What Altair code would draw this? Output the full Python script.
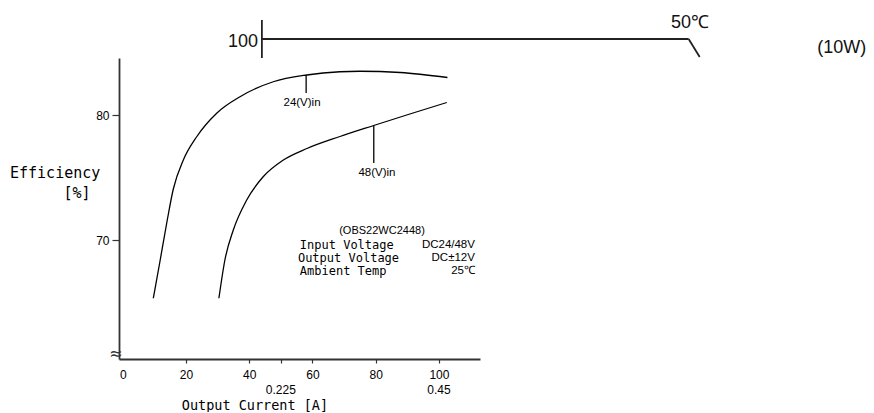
import altair as alt
import pandas as pd

# Efficiency curves (x = load %, y = efficiency %)
load_24 = [9.66, 11.78, 13.9, 15.98, 19.15, 23.38, 29.7, 37.08, 47.6, 58.2, 68.7, 75, 87.8, 102.7]
eff_24 = [65.34, 68.32, 71.36, 74.08, 76.4, 78.26, 80.14, 81.46, 82.66, 83.2, 83.46, 83.5, 83.4, 83.0]
load_48 = [30.4, 32.3, 34.96, 39.2, 44.4, 50.8, 58.26, 68.7, 79.37, 90.8, 102.5]
eff_48 = [65.34, 68.4, 70.8, 73.2, 75.06, 76.4, 77.32, 78.28, 79.16, 80.08, 81.0]

x_ticks = [0, 20, 40, 50, 60, 80, 100]
y_ticks = [70, 80]
current_labels = ["0.225", "0.45"]
current_at = [50, 100]

# line segments in data units: leaders + derating fragment at top
seg_x = [58, 79.4, 44.0, 44.0, 179.0]
seg_y = [83.2, 79.16, 87.6, 86.08, 86.08]
seg_x2 = [58, 79.4, 44.0, 179.0, 182.5]
seg_y2 = [81.76, 76.16, 84.56, 86.08, 84.64]

big_text = ["100", "50℃", "(10W)"]
big_x = [42.8, 179.4, 227.4]
big_y = [85.84, 87.36, 85.36]
big_align = ["right", "center", "center"]

mono_text = ["Efficiency", "[%]"]
mono_x = [-21.4, -14.5]
mono_y = [75.36, 73.76]

xtitle = ["Output Current [A]"]
xtitle_x = [41.8]
xtitle_y = [56.76]

spec_left = ["Input Voltage", "Output Voltage", "Ambient Temp"]
spec_right = ["DC24/48V", "DC±12V", "25℃"]
spec_y = [69.64, 68.6, 67.56]
spec_lx = [56, 55.4, 56]
spec_rx = [111.4, 111.4, 111.4]

small_text = ["24(V)in", "48(V)in"]
small_x = [56.7, 80.4]
small_y = [80.96, 75.36]

model_text = ["(OBS22WC2448)"]
model_x = [82]
model_y = [70.74]

XD = [-1.2, 113]
YD = [60.48, 84.56]

xs = alt.Scale(domain=XD, nice=False, zero=False)
ys = alt.Scale(domain=YD, nice=False, zero=False)

curves = pd.DataFrame({
    "x": load_24 + load_48,
    "y": eff_24 + eff_48,
    "s": ["24"] * len(load_24) + ["48"] * len(load_48),
})

x_axis = alt.Axis(values=x_ticks, title=None, grid=False, tickSize=4,
                  tickOpacity={"condition": {"test": "datum.value == 0", "value": 0}, "value": 1},
                  labelExpr="datum.value == 50 ? '' : datum.label",
                  labelFont="Liberation Sans", labelFontSize=12, labelColor="black",
                  labelPadding=6, domainColor="#333", domainWidth=1.8, tickColor="#333",
                  tickWidth=1.2)
y_axis = alt.Axis(values=y_ticks, title=None, grid=False, tickSize=7,
                  labelFont="Liberation Sans", labelFontSize=12, labelColor="black",
                  labelPadding=3, domainColor="#333", domainWidth=1.8, tickColor="#333",
                  tickWidth=1.2)

lines = alt.Chart(curves).mark_line(color="black", strokeWidth=1.3, interpolate="monotone").encode(
    x=alt.X("x:Q", scale=xs, axis=x_axis),
    y=alt.Y("y:Q", scale=ys, axis=y_axis),
    detail="s:N",
)

segs = alt.Chart(pd.DataFrame({"x": seg_x[:2], "y": seg_y[:2], "x2": seg_x2[:2], "y2": seg_y2[:2]})).mark_rule(
    color="black", strokeWidth=1.3).encode(
    x=alt.X("x:Q", scale=xs), y=alt.Y("y:Q", scale=ys), x2="x2:Q", y2="y2:Q")

segs_top = alt.Chart(pd.DataFrame({"x": seg_x[2:], "y": seg_y[2:], "x2": seg_x2[2:], "y2": seg_y2[2:]})).mark_rule(
    color="#222", strokeWidth=1.8).encode(
    x=alt.X("x:Q", scale=xs), y=alt.Y("y:Q", scale=ys), x2="x2:Q", y2="y2:Q")

big_df = pd.DataFrame({"x": big_x, "y": big_y, "t": big_text, "a": big_align})
big_r = alt.Chart(big_df[big_df.a == "right"]).mark_text(
    font="Liberation Sans", fontSize=18, align="right", baseline="middle", color="#111").encode(
    x=alt.X("x:Q", scale=xs), y=alt.Y("y:Q", scale=ys), text="t:N")
big_c = alt.Chart(big_df[big_df.a == "center"]).mark_text(
    font="Liberation Sans", fontSize=18, align="center", baseline="middle", color="#111").encode(
    x=alt.X("x:Q", scale=xs), y=alt.Y("y:Q", scale=ys), text="t:N")

mono = alt.Chart(pd.DataFrame({"x": mono_x, "y": mono_y, "t": mono_text})).mark_text(
    font="DejaVu Sans Mono", fontSize=15, align="center", baseline="middle", color="black").encode(
    x=alt.X("x:Q", scale=xs), y=alt.Y("y:Q", scale=ys), text="t:N")

xt = alt.Chart(pd.DataFrame({"x": xtitle_x, "y": xtitle_y, "t": xtitle})).mark_text(
    font="DejaVu Sans Mono", fontSize=13.5, align="center", baseline="middle", color="black").encode(
    x=alt.X("x:Q", scale=xs), y=alt.Y("y:Q", scale=ys), text="t:N")

spec_l = alt.Chart(pd.DataFrame({"x": spec_lx, "y": spec_y, "t": spec_left})).mark_text(
    font="DejaVu Sans Mono", fontSize=12, align="left", baseline="middle", color="black").encode(
    x=alt.X("x:Q", scale=xs), y=alt.Y("y:Q", scale=ys), text="t:N")
spec_r = alt.Chart(pd.DataFrame({"x": spec_rx, "y": spec_y, "t": spec_right})).mark_text(
    font="Liberation Sans", fontSize=11.5, align="right", baseline="middle", color="black").encode(
    x=alt.X("x:Q", scale=xs), y=alt.Y("y:Q", scale=ys), text="t:N")

small = alt.Chart(pd.DataFrame({"x": small_x, "y": small_y, "t": small_text})).mark_text(
    font="Liberation Sans", fontSize=11.5, align="center", baseline="middle", color="black").encode(
    x=alt.X("x:Q", scale=xs), y=alt.Y("y:Q", scale=ys), text="t:N")

model = alt.Chart(pd.DataFrame({"x": model_x, "y": model_y, "t": model_text})).mark_text(
    font="Liberation Sans", fontSize=11, align="center", baseline="middle", color="black").encode(
    x=alt.X("x:Q", scale=xs), y=alt.Y("y:Q", scale=ys), text="t:N")

cur = alt.Chart(pd.DataFrame({"x": current_at, "y": [58.0, 58.0], "t": current_labels})).mark_text(
    font="Liberation Sans", fontSize=12, align="center", baseline="middle", color="black").encode(
    x=alt.X("x:Q", scale=xs), y=alt.Y("y:Q", scale=ys), text="t:N")

brk = alt.Chart(pd.DataFrame({"x": [-2.2], "y": [60.9], "t": ["≈"]})).mark_text(
    font="DejaVu Sans", fontSize=16, align="center", baseline="middle", color="#333").encode(
    x=alt.X("x:Q", scale=xs), y=alt.Y("y:Q", scale=ys), text="t:N")

chart = alt.layer(lines, segs, segs_top, big_r, big_c, mono, xt, spec_l, spec_r, small, model, cur, brk).properties(
    width=361, height=301,
    autosize=alt.AutoSizeParams(type="none"),
    padding={"left": 111, "top": 50, "right": 386, "bottom": 53},
    background="white",
).configure_view(stroke=None)

chart.save("out.html", embed_options={"renderer": "svg", "actions": False})
